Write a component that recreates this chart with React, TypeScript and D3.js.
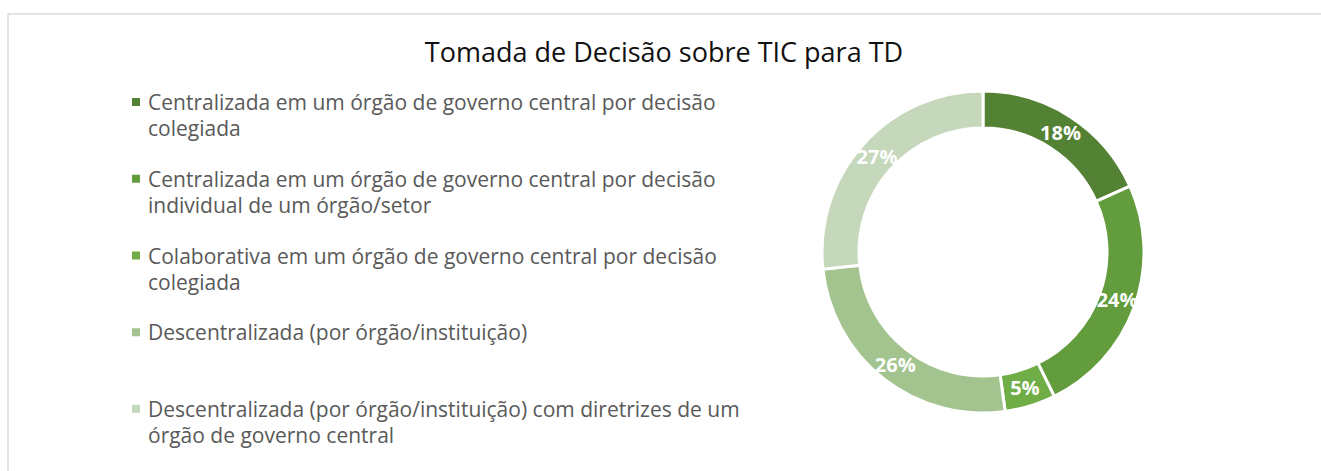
import { arc as Arc, pie as Pie, PieArcDatum, scalePoint, select } from "d3";
import React, { useLayoutEffect, useRef } from "react";

// chart data
const title = "Tomada de Decisão sobre TIC para TD";
const categories = [
  "Centralizada em um órgão de governo central por decisão\ncolegiada",
  "Centralizada em um órgão de governo central por decisão\nindividual de um órgão/setor",
  "Colaborativa em um órgão de governo central por decisão\ncolegiada",
  "Descentralizada (por órgão/instituição)",
  "Descentralizada (por órgão/instituição) com diretrizes de um\nórgão de governo central",
];
const values = [18.3, 24.4, 5.1, 25.5, 26.7];
const colors = ["#548235", "#629c3d", "#70ad47", "#a3c48f", "#c5d8bb"];

const WIDTH = 1321;
const HEIGHT = 471;
const FONT = "'Open Sans', sans-serif";

interface ISlice {
  name: string;
  value: number;
  color: string;
}

const data: ISlice[] = categories.map((name, i) => ({
  name,
  value: values[i],
  color: colors[i],
}));

const App: React.FC = () => {
  const ref = useRef<SVGSVGElement>(null);

  useLayoutEffect(() => {
    const svg = select(ref.current);

    // frame (cut off at right/bottom like the source)
    svg
      .append("rect")
      .attr("x", 8)
      .attr("y", 14)
      .attr("width", WIDTH + 20)
      .attr("height", HEIGHT + 20)
      .attr("fill", "#fff")
      .attr("stroke", "#d9d9d9")
      .attr("stroke-width", 1.5);

    svg
      .append("text")
      .attr("x", 664)
      .attr("y", 62)
      .attr("text-anchor", "middle")
      .attr("font-family", FONT)
      .attr("font-size", 27)
      .attr("fill", "#111")
      .text(title);

    // legend
    const y = scalePoint<number>()
      .domain(data.map((_, i) => i))
      .range([110, 417]);

    const legend = svg
      .append("g")
      .selectAll("g")
      .data(data)
      .enter()
      .append("g")
      .attr("transform", (_, i) => `translate(0, ${y(i)})`);

    legend
      .append("rect")
      .attr("x", 132)
      .attr("y", -12)
      .attr("width", 8)
      .attr("height", 8)
      .attr("fill", (d) => d.color);

    legend
      .append("text")
      .attr("font-family", FONT)
      .attr("font-size", 21)
      .attr("fill", "#595959")
      .selectAll("tspan")
      .data((d) => d.name.split("\n"))
      .enter()
      .append("tspan")
      .attr("x", 148)
      .attr("y", (_, i) => i * 26)
      .text((t) => t);

    // donut
    const outer = 161;
    const inner = 124;
    const pie = Pie<ISlice>()
      .value((d) => d.value)
      .sort(null);
    const arc = Arc<PieArcDatum<ISlice>>().innerRadius(inner).outerRadius(outer);
    const labelArc = Arc<PieArcDatum<ISlice>>()
      .innerRadius((inner + outer) / 2)
      .outerRadius((inner + outer) / 2);

    const donut = svg.append("g").attr("transform", "translate(983, 252)");
    const arcs = pie(data);

    donut
      .selectAll("path")
      .data(arcs)
      .enter()
      .append("path")
      .attr("d", arc)
      .attr("fill", (d) => d.data.color)
      .attr("stroke", "#fff")
      .attr("stroke-width", 3);

    donut
      .selectAll("text")
      .data(arcs)
      .enter()
      .append("text")
      .attr("transform", (d) => `translate(${labelArc.centroid(d)})`)
      .attr("text-anchor", "middle")
      .attr("dy", "0.36em")
      .attr("font-family", FONT)
      .attr("font-weight", "bold")
      .attr("font-size", 20)
      .attr("fill", "#fff")
      .text((d) => `${Math.round(d.data.value)}%`);

    return () => {
      svg.selectAll("*").remove();
    };
  }, []);

  return (
    <svg
      ref={ref}
      width={WIDTH}
      height={HEIGHT}
      style={{ position: "absolute", left: 0, top: 0 }}
    />
  );
};

export default App;
